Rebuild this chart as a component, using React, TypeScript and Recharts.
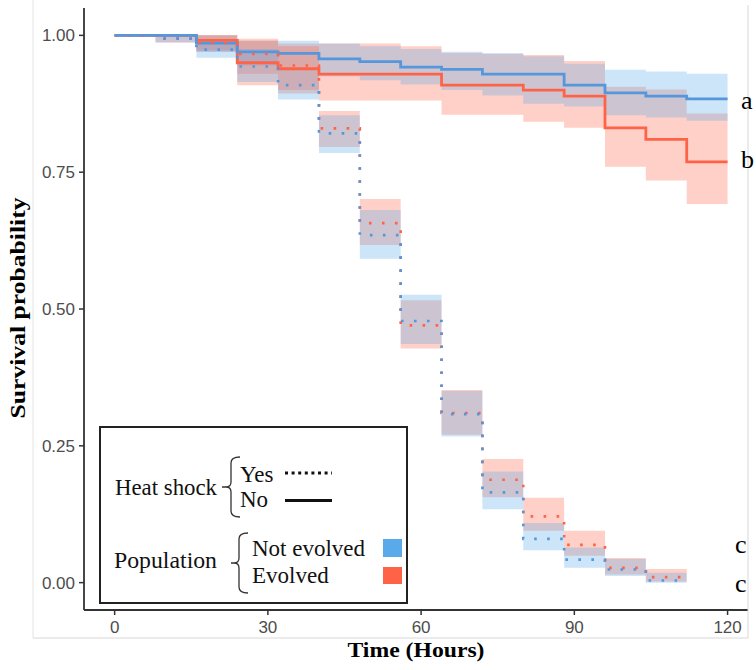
import { ComposedChart, Area, Line, XAxis, YAxis } from "recharts";

// step start times (hours); each value holds until the next start
const stepStarts = [0, 8, 16, 24, 32, 40, 48, 56, 64, 72, 80, 88, 96, 104, 112];
const endNoShock = 120;
const endShock = 112;

// no heat shock (solid)
const noShockNotEvolved = [1, 1, 0.986, 0.97, 0.967, 0.957, 0.952, 0.942, 0.938, 0.929, 0.929, 0.909, 0.895, 0.889, 0.884];
const noShockNotEvolvedLo = [1, 1, 0.97, 0.945, 0.94, 0.925, 0.918, 0.91, 0.9, 0.89, 0.875, 0.87, 0.854, 0.85, 0.844];
const noShockNotEvolvedHi = [1, 1, 1, 0.99, 0.99, 0.985, 0.98, 0.975, 0.97, 0.968, 0.962, 0.948, 0.937, 0.934, 0.93];

const noShockEvolved = [1, 1, 0.991, 0.95, 0.939, 0.929, 0.929, 0.929, 0.909, 0.909, 0.9, 0.889, 0.831, 0.81, 0.769];
const noShockEvolvedLo = [1, 1, 0.973, 0.909, 0.9, 0.881, 0.881, 0.881, 0.855, 0.855, 0.842, 0.831, 0.76, 0.735, 0.692];
const noShockEvolvedHi = [1, 1, 1, 0.994, 0.985, 0.985, 0.985, 0.98, 0.968, 0.966, 0.964, 0.953, 0.906, 0.901, 0.857];

// heat shock (dotted), last step ends at 112 h
const shockNotEvolved = [1, 0.994, 0.974, 0.943, 0.909, 0.821, 0.635, 0.478, 0.308, 0.165, 0.08, 0.042, 0.024, 0.004];
const shockNotEvolvedLo = [1, 0.987, 0.959, 0.915, 0.883, 0.785, 0.592, 0.436, 0.267, 0.134, 0.059, 0.027, 0.012, 0];
const shockNotEvolvedHi = [1, 1, 0.988, 0.975, 0.94, 0.854, 0.681, 0.526, 0.35, 0.203, 0.109, 0.064, 0.043, 0.018];

const shockEvolved = [1, 0.994, 0.986, 0.966, 0.945, 0.83, 0.657, 0.47, 0.31, 0.188, 0.121, 0.069, 0.027, 0.01];
const shockEvolvedLo = [1, 0.987, 0.97, 0.93, 0.894, 0.796, 0.617, 0.428, 0.27, 0.156, 0.095, 0.049, 0.015, 0.002];
const shockEvolvedHi = [1, 1, 1, 0.99, 0.98, 0.862, 0.701, 0.516, 0.352, 0.226, 0.155, 0.095, 0.045, 0.025];

const xTicks = [0, 30, 60, 90, 120];
const yTicks = [0, 0.25, 0.5, 0.75, 1];

const BLUE = "#5aaaea";
const BLUE_LINE = "#5596dc";
const RED = "#ff6347";

type Pt = { t: number; v: number; band: [number, number] };

function buildSeries(v: number[], lo: number[], hi: number[], end: number): Pt[] {
  const pts: Pt[] = v.map((val, i) => ({ t: stepStarts[i], v: val, band: [lo[i], hi[i]] }));
  const last = v.length - 1;
  pts.push({ t: end, v: v[last], band: [lo[last], hi[last]] });
  return pts;
}

const sBlueSolid = buildSeries(noShockNotEvolved, noShockNotEvolvedLo, noShockNotEvolvedHi, endNoShock);
const sRedSolid = buildSeries(noShockEvolved, noShockEvolvedLo, noShockEvolvedHi, endNoShock);
const sBlueDot = buildSeries(shockNotEvolved, shockNotEvolvedLo, shockNotEvolvedHi, endShock);
const sRedDot = buildSeries(shockEvolved, shockEvolvedLo, shockEvolvedHi, endShock);

const serif = "'Liberation Serif', serif";
const dotted = "2.6 10.4";

export default function App() {
  return (
    <div style={{ position: "absolute", left: 0, top: 0, width: 756, height: 670, background: "#fff" }}>
      <ComposedChart width={756} height={670} margin={{ top: 8, right: 8, bottom: 0, left: 0 }}>
        <XAxis
          type="number"
          dataKey="t"
          domain={[-6, 124]}
          ticks={xTicks}
          allowDataOverflow
          height={60}
          tickSize={5}
          tickMargin={6}
          axisLine={{ stroke: "#333", strokeWidth: 1.8 }}
          tickLine={{ stroke: "#333", strokeWidth: 1.5 }}
          tick={{ fill: "#4d4d4d", fontSize: 17, fontFamily: "'Liberation Sans', Arial, sans-serif" }}
        />
        <YAxis
          type="number"
          domain={[-0.05, 1.05]}
          ticks={yTicks}
          allowDataOverflow
          width={84}
          tickSize={5}
          tickMargin={4}
          tickFormatter={(v: number) => v.toFixed(2)}
          axisLine={{ stroke: "#333", strokeWidth: 1.8 }}
          tickLine={{ stroke: "#333", strokeWidth: 1.5 }}
          tick={{ fill: "#4d4d4d", fontSize: 17, fontFamily: "'Liberation Sans', Arial, sans-serif" }}
        />

        <Area data={sRedSolid} dataKey="band" type="stepAfter" fill={RED} fillOpacity={0.3} stroke="none" isAnimationActive={false} activeDot={false} />
        <Area data={sBlueSolid} dataKey="band" type="stepAfter" fill={BLUE} fillOpacity={0.3} stroke="none" isAnimationActive={false} activeDot={false} />
        <Area data={sRedDot} dataKey="band" type="stepAfter" fill={RED} fillOpacity={0.3} stroke="none" isAnimationActive={false} activeDot={false} />
        <Area data={sBlueDot} dataKey="band" type="stepAfter" fill={BLUE} fillOpacity={0.3} stroke="none" isAnimationActive={false} activeDot={false} />

        <Line data={sRedSolid} dataKey="v" type="stepAfter" stroke={RED} strokeWidth={2.8} dot={false} activeDot={false} isAnimationActive={false} />
        <Line data={sBlueSolid} dataKey="v" type="stepAfter" stroke={BLUE_LINE} strokeWidth={2.8} dot={false} activeDot={false} isAnimationActive={false} />
        <Line data={sRedDot} dataKey="v" type="stepAfter" stroke={RED} strokeWidth={2.6} strokeDasharray={dotted} dot={false} activeDot={false} isAnimationActive={false} />
        <Line data={sBlueDot} dataKey="v" type="stepAfter" stroke={BLUE_LINE} strokeWidth={2.6} strokeDasharray={dotted} dot={false} activeDot={false} isAnimationActive={false} />
      </ComposedChart>

      <svg width={756} height={670} style={{ position: "absolute", left: 0, top: 0, pointerEvents: "none" }}>
        {/* faint outer frame */}
        <line x1={33} y1={0} x2={33} y2={638} stroke="#e4e4e4" strokeWidth={1} />
        <line x1={33} y1={638} x2={748} y2={638} stroke="#d8d8d8" strokeWidth={1} />
        <line x1={748} y1={5} x2={748} y2={638} stroke="#d8d8d8" strokeWidth={1} />

        {/* axis titles */}
        <text x={416} y={657} textAnchor="middle" fontFamily={serif} fontWeight="bold" fontSize={21} textLength={137} lengthAdjust="spacingAndGlyphs" fill="#000">
          Time (Hours)
        </text>
        <text transform="translate(25,308) rotate(-90)" textAnchor="middle" fontFamily={serif} fontWeight="bold" fontSize={21} textLength={221} lengthAdjust="spacingAndGlyphs" fill="#000">
          Survival probability
        </text>

        {/* group letters */}
        <g fontFamily={serif} fontSize={26} fill="#000">
          <text x={741} y={109}>a</text>
          <text x={741} y={168}>b</text>
          <text x={735} y={553}>c</text>
          <text x={735} y={592}>c</text>
        </g>

        {/* legend */}
        <rect x={100} y={427} width={307} height={176} fill="#fff" stroke="#222" strokeWidth={2} />
        <g fontFamily={serif} fontSize={23} fill="#111">
          <text x={115} y={495} textLength={102} lengthAdjust="spacingAndGlyphs">Heat shock</text>
          <text x={240} y={482}>Yes</text>
          <text x={240} y={507}>No</text>
          <text x={114} y={568} textLength={103} lengthAdjust="spacingAndGlyphs">Population</text>
          <text x={252} y={556}>Not evolved</text>
          <text x={252} y={583}>Evolved</text>
        </g>
        <path d="M240,457 Q231,457 231,463 L231,482 Q231,487 226,487 L222,487 M226,487 Q231,487 231,492 L231,511 Q231,517 240,517" fill="none" stroke="#333" strokeWidth={1.3} />
        <path d="M248,533 Q239,533 239,539 L239,558 Q239,563 234,563 L231,563 M234,563 Q239,563 239,568 L239,587 Q239,593 248,593" fill="none" stroke="#333" strokeWidth={1.3} />
        <line x1={285} y1={473} x2={332} y2={473} stroke="#111" strokeWidth={3} strokeDasharray="3 3.6" />
        <line x1={285} y1={500.5} x2={332} y2={500.5} stroke="#111" strokeWidth={3} />
        <rect x={383} y={539} width={19} height={18} fill={BLUE} />
        <rect x={383} y={567} width={19} height={17} fill={RED} />
      </svg>
    </div>
  );
}
